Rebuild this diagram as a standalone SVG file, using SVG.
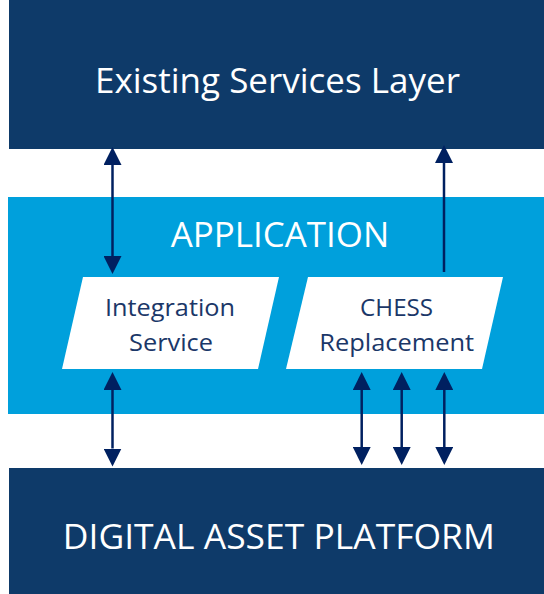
<svg xmlns="http://www.w3.org/2000/svg" width="544" height="594" viewBox="0 0 544 594">
  <style>
    .dark { fill: #0e3a69; }
    .app { fill: #00a0dc; }
    .para { fill: #ffffff; }
    .big { font-family: "Open Sans", "Noto Sans", "Liberation Sans", sans-serif; fill: #ffffff; text-anchor: middle; }
    .small { font-family: "Open Sans", "Noto Sans", "Liberation Sans", sans-serif; fill: #1b3768; text-anchor: middle; font-size: 23px; }
    .conn { stroke: #002060; stroke-width: 2.5; fill: none; }
  </style>
  <defs>
    <marker id="ah" viewBox="0 0 18 18" markerWidth="18" markerHeight="18" refX="0" refY="9" orient="auto-start-reverse" markerUnits="userSpaceOnUse">
      <path d="M0,0 L18,9 L0,18 z" fill="#002060"/>
    </marker>
  </defs>
  <rect width="544" height="594" fill="#ffffff"/>

  <g id="existing-services-layer">
    <rect class="dark" x="9" y="0" width="535" height="149"/>
    <text class="big" x="277.5" y="93.3" font-size="34" textLength="365" lengthAdjust="spacingAndGlyphs">Existing Services Layer</text>
  </g>

  <g id="application">
    <rect class="app" x="8" y="197" width="536" height="217"/>
    <text class="big" x="280" y="246.7" font-size="35" textLength="218.5" lengthAdjust="spacingAndGlyphs">APPLICATION</text>
  </g>

  <g id="digital-asset-platform">
    <rect class="dark" x="9" y="468" width="535" height="126"/>
    <text class="big" x="278.8" y="549.3" font-size="34" textLength="432" lengthAdjust="spacingAndGlyphs">DIGITAL ASSET PLATFORM</text>
  </g>

  <g id="integration-service">
    <polygon class="para" points="83,277 279,277 258,369 62,369"/>
    <text class="small" x="170" y="316" textLength="130" lengthAdjust="spacingAndGlyphs">Integration</text>
    <text class="small" x="171" y="350.7" textLength="84" lengthAdjust="spacingAndGlyphs">Service</text>
  </g>

  <g id="chess-replacement">
    <polygon class="para" points="308,277 503,277 482,369 286,369"/>
    <text class="small" x="396.6" y="316" textLength="73" lengthAdjust="spacingAndGlyphs">CHESS</text>
    <text class="small" x="396.7" y="350.7" textLength="155" lengthAdjust="spacingAndGlyphs">Replacement</text>
  </g>

  <g id="connectors">
    <line class="conn" x1="112.5" y1="165" x2="112.5" y2="256" marker-start="url(#ah)" marker-end="url(#ah)"/>
    <line class="conn" x1="444" y1="163" x2="444" y2="272" marker-start="url(#ah)"/>
    <line class="conn" x1="112.5" y1="390" x2="112.5" y2="448.5" marker-start="url(#ah)" marker-end="url(#ah)"/>
    <line class="conn" x1="361.7" y1="390" x2="361.7" y2="447" marker-start="url(#ah)" marker-end="url(#ah)"/>
    <line class="conn" x1="401.7" y1="390" x2="401.7" y2="447" marker-start="url(#ah)" marker-end="url(#ah)"/>
    <line class="conn" x1="444.3" y1="390" x2="444.3" y2="447" marker-start="url(#ah)" marker-end="url(#ah)"/>
  </g>
</svg>
